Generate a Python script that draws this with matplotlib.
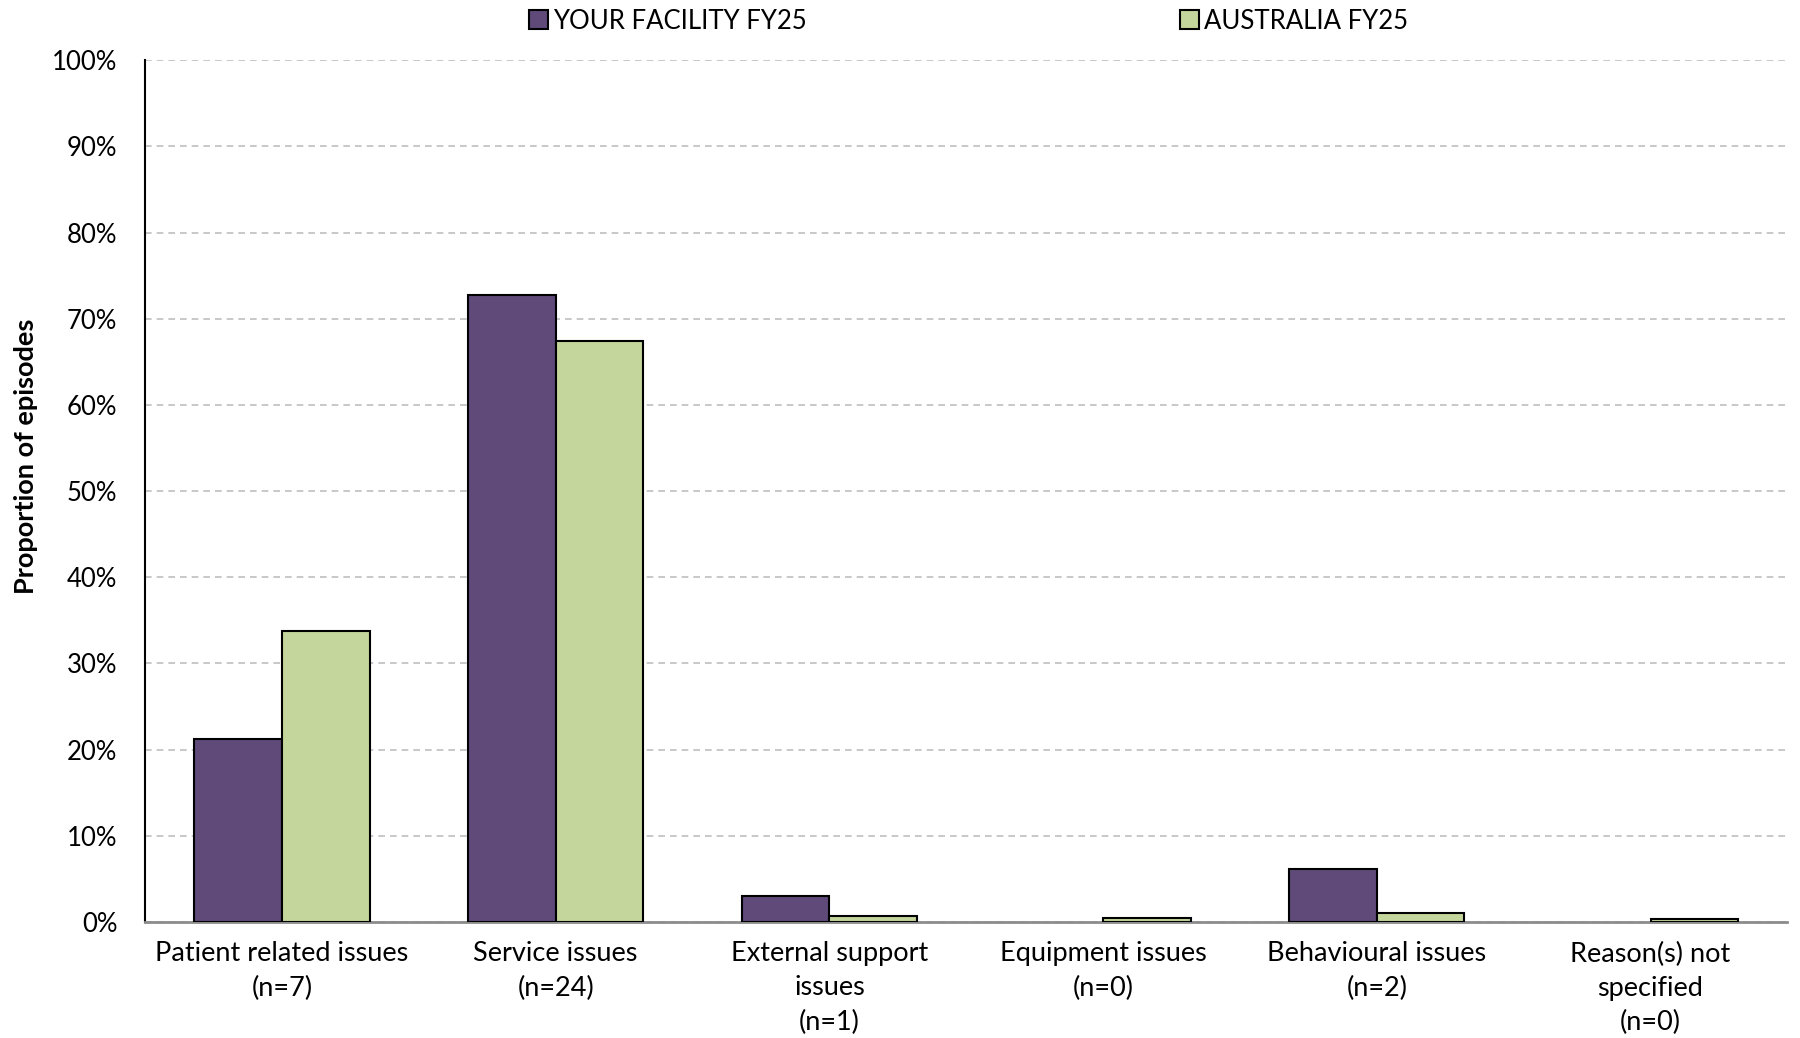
import matplotlib

matplotlib.use("Agg")
import matplotlib.pyplot as plt
import numpy as np
from matplotlib.patches import Patch
from matplotlib.ticker import PercentFormatter

plt.rcParams["font.family"] = ["Lato", "DejaVu Sans"]

categories = [
    "Patient related issues\n(n=7)",
    "Service issues\n(n=24)",
    "External support\nissues\n(n=1)",
    "Equipment issues\n(n=0)",
    "Behavioural issues\n(n=2)",
    "Reason(s) not\nspecified\n(n=0)",
]
facility = [21.2, 72.7, 3.0, 0.0, 6.1, 0.0]
australia = [33.8, 67.4, 0.7, 0.5, 1.0, 0.3]
series_names = ["YOUR FACILITY FY25", "AUSTRALIA FY25"]

PURPLE, GREEN = "#5f4a79", "#c4d69c"

fig = plt.figure(figsize=(18, 10.38), dpi=100)
ax = fig.add_axes([0.0806, 0.1117, 0.9124, 0.8303])

x = np.arange(len(categories))
w = 0.32
# zero-valued bars get no outline so they vanish like in the original
for offset, vals, col in [(-w / 2, facility, PURPLE), (w / 2, australia, GREEN)]:
    lw = [1.5 if v > 0 else 0 for v in vals]
    ax.bar(x + offset, vals, w, color=col, edgecolor="black", linewidth=lw, zorder=3)

ax.set_xlim(-0.5, len(categories) - 0.5)
ax.set_ylim(0, 100)
ax.set_yticks(np.arange(0, 101, 10))
ax.yaxis.set_major_formatter(PercentFormatter(decimals=0))
ax.set_xticks(x)
ax.set_xticklabels(categories, fontsize=19.5, linespacing=1.45)
ax.tick_params(axis="y", labelsize=18.5, length=0, pad=20)
ax.tick_params(axis="x", length=0, pad=14)
ax.grid(axis="y", color="#bfbfbf", linestyle=(0, (4, 3)), linewidth=1.2, zorder=0)
for s in ["top", "right"]:
    ax.spines[s].set_visible(False)
ax.spines["left"].set_color("black")
ax.spines["left"].set_linewidth(1.5)
ax.spines["bottom"].set_color("#8c8c8c")
ax.spines["bottom"].set_linewidth(2)
ax.set_ylabel("Proportion of episodes", fontsize=19.5, fontweight="bold")
ax.yaxis.set_label_coords(-0.065, 0.54)

fig.legend(
    handles=[
        Patch(facecolor=PURPLE, edgecolor="black", linewidth=1.5, label=series_names[0]),
        Patch(facecolor=GREEN, edgecolor="black", linewidth=1.5, label=series_names[1]),
    ],
    loc="upper left",
    bbox_to_anchor=(516 / 1800, 1.004),
    borderpad=0,
    ncol=2,
    frameon=False,
    fontsize=18.5,
    handlelength=0.75,
    handleheight=0.75,
    handletextpad=0.2,
    columnspacing=14.5,
)

fig.savefig("out.png", dpi=100)
